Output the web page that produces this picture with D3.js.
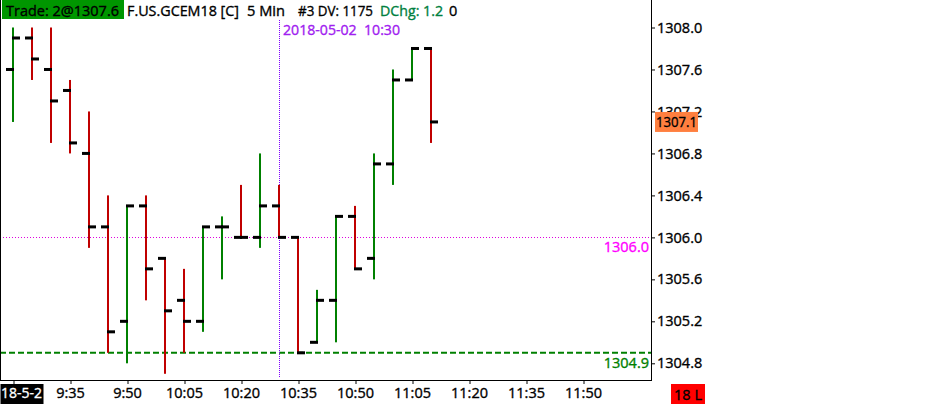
<!DOCTYPE html>
<html>
<head>
<meta charset="utf-8">
<script src="https://cdn.jsdelivr.net/npm/d3@7"></script>
<style>
  html, body { margin: 0; padding: 0; background: #fff; }
  svg text { font-family: "Open Sans", "Noto Sans", sans-serif; white-space: pre; stroke-width: 0.35px; }
</style>
</head>
<body>
<svg id="chart" width="938" height="405"></svg>
<script>
// ---- data ----
const times  = ["9:20","9:25","9:30","9:35","9:40","9:45","9:50","9:55","10:00","10:05","10:10","10:15",
                "10:20","10:25","10:30","10:35","10:40","10:45","10:50","10:55","11:00","11:05","11:10"];
const opens  = [1307.6,1307.9,1307.6,1307.4,1306.8,1306.1,1305.2,1306.3,1305.8,1305.4,1305.2,1306.1,
                1306.0,1306.0,1306.3,1306.0,1305.0,1305.4,1306.2,1305.8,1306.7,1307.5,1307.8];
const highs  = [1308.0,1308.0,1308.0,1307.5,1307.2,1306.4,1306.3,1306.4,1305.8,1305.7,1306.1,1306.2,
                1306.5,1306.8,1306.5,1306.0,1305.5,1306.2,1306.3,1306.8,1307.6,1307.8,1307.8];
const lows   = [1307.1,1307.5,1306.9,1306.8,1305.9,1304.9,1304.8,1305.4,1304.7,1304.9,1305.1,1305.6,
                1306.0,1305.9,1306.0,1304.9,1305.0,1305.0,1305.7,1305.6,1306.5,1307.5,1306.9];
const closes = [1307.9,1307.7,1307.3,1306.9,1306.1,1305.1,1306.3,1305.7,1305.3,1305.2,1306.1,1306.1,
                1306.0,1306.3,1306.0,1304.9,1305.4,1306.2,1305.7,1306.7,1307.5,1307.8,1307.1];
const xTickLabels = ["18-5-2","9:35","9:50","10:05","10:20","10:35","10:50","11:05","11:20","11:35","11:50"];
const yTicks = [1304.8,1305.2,1305.6,1306.0,1306.4,1306.8,1307.2,1307.6,1308.0];
const lastPrice = 1307.1;
const refLevel = 1306.0;     // magenta dotted level
const lowLevel = 1304.9;     // green dashed level
const cursorTime = "10:30";
const headerItems = ["Trade: 2@1307.6", "F.US.GCEM18 [C]", "5 Min", "#3 DV: 1175", "DChg: 1.2", "0"];
const headerColors = ["#000", "#000", "#000", "#000", "#008040", "#000"];
const cursorLabel = "2018-05-02  10:30";
const cornerLabel = "18 L";

// ---- helpers ----
const FS = 14.5;
const parseT = s => { const [h,m] = s.split(":").map(Number); return new Date(2018,4,2,h,m); };
const bars = times.map((t,i) => ({t: parseT(t), o: opens[i], h: highs[i], l: lows[i], c: closes[i]}));
bars.forEach((b,i) => {
  const prev = i > 0 ? bars[i-1].c : b.o;
  b.up = b.c > b.o || (b.c === b.o && b.c >= prev);
});

const svg = d3.select("#chart");
const plotRight = 651, plotBottom = 380;

const x = d3.scaleTime()
  .domain([parseT("9:20"), parseT("12:05")])
  .range([13, 13 + 33 * 19]);
const y = d3.scaleLinear()
  .domain([1304.8, 1308.0])
  .range([363.3, 27.5]);

const GREEN = "#008000", RED = "#c00000";
const txt = (sel, color) => sel.attr("fill", color).attr("stroke", color);

// ---- levels ----
svg.append("line")
  .attr("x1", 0).attr("x2", plotRight)
  .attr("y1", Math.round(y(refLevel)) + 0.5).attr("y2", Math.round(y(refLevel)) + 0.5)
  .attr("stroke", "#e000e0").attr("stroke-width", 1).attr("stroke-dasharray", "1,2");
txt(svg.append("text")
  .attr("x", 649).attr("y", y(refLevel) + 15)
  .attr("text-anchor", "end").attr("font-size", FS)
  .text(refLevel.toFixed(1)), "#ff00ff");

svg.append("line")
  .attr("x1", 0).attr("x2", plotRight)
  .attr("y1", y(lowLevel)).attr("y2", y(lowLevel))
  .attr("stroke", GREEN).attr("stroke-width", 2).attr("stroke-dasharray", "6,3");
txt(svg.append("text")
  .attr("x", 649).attr("y", y(lowLevel) + 15)
  .attr("text-anchor", "end").attr("font-size", FS)
  .text(lowLevel.toFixed(1)), GREEN);

// ---- crosshair ----
const cx = Math.round(x(parseT(cursorTime))) + 0.5;
svg.append("line")
  .attr("x1", cx).attr("x2", cx).attr("y1", 20).attr("y2", 378)
  .attr("stroke", "#8000ff").attr("stroke-width", 1).attr("stroke-dasharray", "1,1");

// ---- OHLC bars ----
const g = svg.append("g");
const bg = g.selectAll("g.bar").data(bars).join("g").attr("class", "bar");
bg.append("rect")
  .attr("x", d => x(d.t) - 1).attr("width", 2)
  .attr("y", d => y(d.h)).attr("height", d => Math.max(1, y(d.l) - y(d.h)))
  .attr("fill", d => d.up ? GREEN : RED);
bg.append("rect")
  .attr("x", d => x(d.t) - 7).attr("width", 8)
  .attr("y", d => y(d.o) - 1.5).attr("height", 3)
  .attr("fill", "#000");
bg.append("rect")
  .attr("x", d => x(d.t) - 1).attr("width", 8)
  .attr("y", d => y(d.c) - 1.5).attr("height", 3)
  .attr("fill", "#000");

// ---- axes frame ----
svg.append("line").attr("x1", 0.5).attr("x2", 0.5).attr("y1", 0).attr("y2", plotBottom).attr("stroke", "#000");
svg.append("line").attr("x1", plotRight + 0.5).attr("x2", plotRight + 0.5).attr("y1", 0).attr("y2", plotBottom + 1).attr("stroke", "#000");
svg.append("line").attr("x1", 0).attr("x2", plotRight + 1).attr("y1", plotBottom + 0.5).attr("y2", plotBottom + 0.5).attr("stroke", "#000");

// right y axis
const yAxis = d3.axisRight(y).tickValues(yTicks).tickFormat(d3.format(".1f")).tickSize(3).tickPadding(2);
const ya = svg.append("g").attr("transform", `translate(${plotRight + 1},0)`).call(yAxis);
ya.select(".domain").remove();
ya.selectAll(".tick line").attr("stroke", "#000");
ya.selectAll(".tick text").attr("font-size", FS).attr("fill", "#000").attr("stroke", "#000")
  .attr("font-family", '"Open Sans", sans-serif');

// last price marker
const lp = svg.append("g").attr("transform", `translate(655,${y(lastPrice)})`);
lp.append("rect").attr("x", 0).attr("y", -10).attr("width", 43).attr("height", 20).attr("fill", "#ff7f3f");
txt(lp.append("text").attr("x", 1).attr("y", 5).attr("font-size", FS)
  .attr("textLength", 41).attr("lengthAdjust", "spacingAndGlyphs").text(lastPrice.toFixed(1)), "#000");

// bottom x axis
const xTickVals = xTickLabels.map((_, i) => d3.timeMinute.offset(parseT("9:20"), i * 15));
const xAxis = d3.axisBottom(x).tickValues(xTickVals).tickFormat((d, i) => xTickLabels[i]).tickSize(4).tickPadding(4);
const xa = svg.append("g").attr("transform", `translate(0,${plotBottom})`).call(xAxis);
xa.select(".domain").remove();
xa.selectAll(".tick line").attr("stroke", "#000").attr("transform", "translate(0.5,0)");
xa.selectAll(".tick text").attr("font-size", FS).attr("fill", "#000").attr("stroke", "#000")
  .attr("font-family", '"Open Sans", sans-serif');
// first label: date in inverse box, left aligned
const first = xa.select(".tick text");
first.attr("fill", "#fff").attr("stroke", "#fff").attr("text-anchor", "start").attr("x", -x(xTickVals[0]) + 0.5)
  .attr("textLength", 41).attr("lengthAdjust", "spacingAndGlyphs");
xa.select(".tick").insert("rect", "text")
  .attr("x", -x(xTickVals[0])).attr("y", 4).attr("width", 43).attr("height", 20).attr("fill", "#000");

// corner label
svg.append("rect").attr("x", 671).attr("y", 384).attr("width", 34).attr("height", 20).attr("fill", "#ff0000");
txt(svg.append("text").attr("x", 688).attr("y", 399.5).attr("text-anchor", "middle").attr("font-size", FS).text(cornerLabel), "#000");

// ---- header ----
svg.append("rect").attr("x", 2).attr("y", 0).attr("width", 122).attr("height", 19).attr("fill", "#009600");
const hdrX = [6, 127, 247, 298, 380, 449];
const hdrW = [113, 112, 38, 75, 63, 0];
headerItems.forEach((s, i) => {
  const t = txt(svg.append("text").attr("x", hdrX[i]).attr("y", 15.5).attr("font-size", FS).text(s), headerColors[i]);
  if (hdrW[i]) t.attr("textLength", hdrW[i]).attr("lengthAdjust", "spacingAndGlyphs");
});

txt(svg.append("text").attr("x", 283).attr("y", 35).attr("font-size", FS)
  .attr("textLength", 117).attr("lengthAdjust", "spacingAndGlyphs").text(cursorLabel), "#a020f0");
</script>
</body>
</html>
